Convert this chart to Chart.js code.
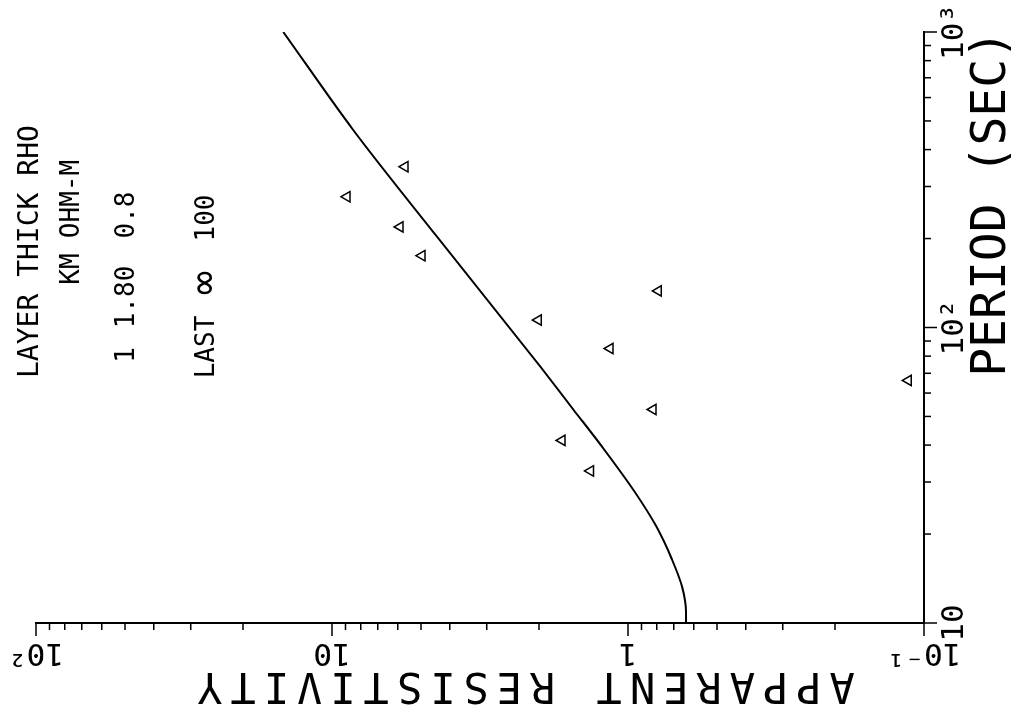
<!DOCTYPE html>
<html>
<head>
<meta charset="utf-8">
<title>Apparent resistivity vs period</title>
<script src="https://cdn.jsdelivr.net/npm/chart.js"></script>
<style>
  html, body { margin: 0; padding: 0; background: #fff; overflow: hidden; }
  #page { position: relative; width: 1018px; height: 715px; overflow: hidden; background: #fff; }
  /* the plot is drawn upright and then turned a quarter to the left, like the plotter sheet */
  #plot { position: absolute; left: 0; top: 0; transform-origin: 0 0; transform: translate(0, 715px) rotate(-90deg); }
</style>
</head>
<body>
<div id="page"><canvas id="plot" width="715" height="1018"></canvas></div>

<script>
    const periodTicks = [10, 100, 1000];
    const periodTickLabels = ['10', '10²', '10³'];
    const rhoTicks = [0.1, 1, 10, 100];
    const rhoTickLabels = ['10⁻¹', '1', '10', '10²'];

    // model curve (2 layer: 1.80 km of 0.8 ohm-m over 100 ohm-m)
    const modelPeriod = [10, 10.9, 13.3, 16.4, 21.3, 27.7, 38.7, 52.8, 73.8, 203, 467, 1000];
    const modelRho = [0.637, 0.637, 0.657, 0.71, 0.804, 0.947, 1.205, 1.53, 1.98, 4.42, 8.49, 14.6];

    // observed values (triangles)
    const obsPeriod = [32.7, 41.5, 52.8, 66.2, 84.9, 106, 133, 175, 219, 277, 350];
    const obsRho = [1.34, 1.67, 0.823, 0.113, 1.15, 2.01, 0.79, 4.97, 5.89, 8.90, 5.67];

    // layer table written on the sheet: [text, centre along the row, row]
    const tableHead = 'LAYER THICK RHO';
    const tableCells = [
        ['KM', 446, 1], ['OHM-M', 516, 1],
        ['1', 360, 2], ['1.80', 418, 2], ['0.8', 500, 2],
        ['LAST', 368, 3], ['∞', 432, 3], ['100', 497, 3]
    ];

    const MONO = '"DejaVu Sans Mono", "Liberation Mono", monospace';

    // 1..9 x 10^n positions for the tick marks
    function logMarks(min, max) {
        const out = [];
        for (let e = Math.floor(Math.log10(min)); e <= Math.ceil(Math.log10(max)); e++) {
            for (let m = 1; m <= 9; m++) {
                const v = m * Math.pow(10, e);
                if (v >= min * 0.999 && v <= max * 1.001) out.push({ v: v, major: m === 1 });
            }
        }
        return out;
    }

    const plotterText = {
        id: 'plotterText',
        afterDraw(chart) {
            const ctx = chart.ctx;
            const xs = chart.scales.x;
            const ys = chart.scales.y;
            const area = chart.chartArea;
            ctx.save();
            ctx.strokeStyle = '#000';
            ctx.lineWidth = 1.5;
            ctx.beginPath();
            logMarks(xs.min, xs.max).forEach(t => {
                const px = xs.getPixelForValue(t.v);
                ctx.moveTo(px, area.bottom);
                ctx.lineTo(px, area.bottom + (t.major ? 13 : 7));
            });
            logMarks(ys.min, ys.max).forEach(t => {
                const py = ys.getPixelForValue(t.v);
                ctx.moveTo(area.left, py);
                ctx.lineTo(area.left - (t.major ? 13 : 7), py);
            });
            ctx.stroke();

            ctx.fillStyle = '#000';
            ctx.textBaseline = 'middle';

            ctx.font = '48px ' + MONO;
            ctx.textAlign = 'right';
            ctx.fillText('PERIOD (SEC)', area.right + 2, 993);

            ctx.save();
            ctx.translate(31, 522);
            ctx.rotate(-Math.PI / 2);
            ctx.font = '42px ' + MONO;
            ctx.letterSpacing = '8px';
            ctx.textAlign = 'center';
            ctx.fillText('APPARENT RESISTIVITY', 0, 0);
            ctx.restore();

            const rowY = [31, 72, 127, 207];
            ctx.font = '28px ' + MONO;
            ctx.textAlign = 'left';
            ctx.fillText(tableHead, 337, rowY[0]);
            ctx.textAlign = 'center';
            tableCells.forEach(c => {
                ctx.font = (c[0] === '∞' ? '40px ' : '26px ') + MONO;
                ctx.fillText(c[0], c[1], rowY[c[2]]);
            });
            ctx.restore();
        }
    };

    new Chart(document.getElementById('plot'), {
        type: 'scatter',
        data: {
            datasets: [
                {
                    label: 'Model',
                    data: modelPeriod.map((p, i) => ({ x: p, y: modelRho[i] })),
                    showLine: true,
                    borderColor: '#000',
                    borderWidth: 2,
                    pointRadius: 0,
                    cubicInterpolationMode: 'monotone',
                    fill: false
                },
                {
                    label: 'Observed',
                    data: obsPeriod.map((p, i) => ({ x: p, y: obsRho[i] })),
                    showLine: false,
                    pointStyle: 'triangle',
                    pointRadius: 6,
                    borderColor: '#000',
                    backgroundColor: 'rgba(0,0,0,0)',
                    borderWidth: 1.5
                }
            ]
        },
        options: {
            responsive: false,
            animation: false,
            devicePixelRatio: 1,
            layout: { padding: { top: 36, right: 32, left: 0, bottom: 0 } },
            plugins: { legend: { display: false }, tooltip: { enabled: false } },
            scales: {
                x: {
                    type: 'logarithmic',
                    position: 'bottom',
                    min: 10,
                    max: 1000,
                    afterBuildTicks: s => { s.ticks = periodTicks.map(v => ({ value: v })); },
                    afterFit: s => { s.height = 94; s.paddingLeft = 0; s.paddingRight = 0; },
                    grid: { display: true, drawOnChartArea: false, drawTicks: false },
                    border: { display: true, color: '#000', width: 2 },
                    ticks: {
                        autoSkip: false, maxRotation: 0, padding: 12, color: '#000',
                        font: { family: MONO, size: 31 },
                        callback: v => periodTickLabels[periodTicks.indexOf(v)] ?? ''
                    }
                },
                y: {
                    type: 'logarithmic',
                    position: 'left',
                    min: 0.1,
                    max: 100,
                    afterBuildTicks: s => { s.ticks = rhoTicks.map(v => ({ value: v })); },
                    afterFit: s => { s.width = 92; s.paddingTop = 0; s.paddingBottom = 0; },
                    grid: { display: true, drawOnChartArea: false, drawTicks: false },
                    border: { display: true, color: '#000', width: 2 },
                    ticks: {
                        autoSkip: false, minRotation: 90, maxRotation: 90, crossAlign: 'center',
                        padding: -8, color: '#000',
                        font: { family: MONO, size: 31 },
                        callback: v => rhoTickLabels[rhoTicks.indexOf(v)] ?? ''
                    }
                }
            }
        },
        plugins: [plotterText]
    });
</script>
</body>
</html>
